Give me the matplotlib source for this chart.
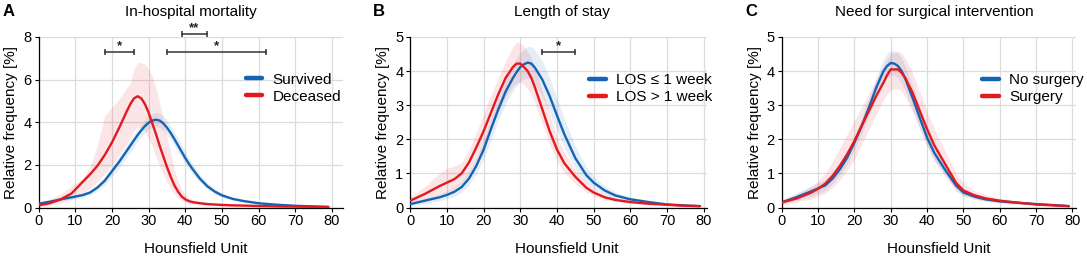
import matplotlib
matplotlib.use("Agg")
import matplotlib.pyplot as plt

plt.rcParams['font.family'] = ['Liberation Sans', 'DejaVu Sans']

BLUE = '#1464b4'
RED = '#e3191f'

# ---------------- Panel A: In-hospital mortality ----------------
xa = [0, 3, 6, 9, 12, 14, 16, 18, 20, 22, 24, 25, 26, 27, 28, 29, 30, 31, 32, 33,
      34, 35, 36, 37, 38, 39, 40, 41, 42, 44, 46, 48, 50, 53, 56, 60, 65, 70, 75, 79]
a_survived = [0.18, 0.27, 0.38, 0.48, 0.58, 0.70, 0.93, 1.25, 1.70, 2.15, 2.65, 2.90, 3.15, 3.40,
              3.62, 3.82, 3.98, 4.08, 4.12, 4.08, 3.95, 3.75, 3.50, 3.22, 2.92, 2.62, 2.32, 2.05,
              1.80, 1.35, 1.00, 0.75, 0.57, 0.40, 0.30, 0.20, 0.13, 0.08, 0.05, 0.03]
a_survived_hi = [0.22, 0.32, 0.45, 0.55, 0.68, 0.82, 1.10, 1.45, 1.95, 2.45, 2.95, 3.20, 3.45, 3.70,
                 3.92, 4.12, 4.30, 4.42, 4.45, 4.42, 4.30, 4.10, 3.85, 3.55, 3.25, 2.93, 2.60, 2.30,
                 2.03, 1.55, 1.15, 0.87, 0.67, 0.48, 0.36, 0.25, 0.17, 0.11, 0.07, 0.05]
a_survived_lo = [0.13, 0.20, 0.30, 0.38, 0.48, 0.58, 0.78, 1.05, 1.45, 1.87, 2.35, 2.60, 2.85, 3.10,
                 3.32, 3.52, 3.68, 3.76, 3.80, 3.75, 3.62, 3.42, 3.17, 2.90, 2.60, 2.32, 2.05, 1.80,
                 1.58, 1.17, 0.86, 0.64, 0.48, 0.33, 0.24, 0.16, 0.10, 0.06, 0.04, 0.02]
a_deceased = [0.10, 0.20, 0.38, 0.66, 1.20, 1.55, 1.95, 2.45, 3.05, 3.75, 4.50, 4.85, 5.12, 5.22,
              5.12, 4.85, 4.45, 3.95, 3.45, 2.90, 2.40, 1.90, 1.45, 1.05, 0.75, 0.52, 0.38, 0.30,
              0.25, 0.20, 0.16, 0.14, 0.12, 0.10, 0.09, 0.07, 0.05, 0.04, 0.03, 0.02]
a_deceased_hi = [0.22, 0.40, 0.65, 1.00, 1.35, 1.90, 2.90, 4.30, 4.70, 5.10, 5.60, 5.80, 6.50, 6.80,
                 6.80, 6.70, 6.50, 6.15, 5.60, 4.90, 4.15, 3.30, 2.60, 1.80, 1.25, 0.85, 0.60, 0.45,
                 0.38, 0.30, 0.25, 0.20, 0.17, 0.14, 0.12, 0.10, 0.07, 0.05, 0.04, 0.03]
a_deceased_lo = [0.05, 0.10, 0.20, 0.38, 0.65, 0.90, 1.20, 1.60, 2.00, 2.50, 3.00, 3.30, 3.60, 3.80,
                 3.75, 3.55, 3.25, 2.85, 2.40, 1.95, 1.55, 1.20, 0.90, 0.65, 0.45, 0.32, 0.24, 0.19,
                 0.16, 0.12, 0.10, 0.08, 0.07, 0.06, 0.05, 0.04, 0.03, 0.02, 0.01, 0.01]
a_sig = [(18, 26, 7.3, '*'), (39, 46, 8.12, '**'), (35, 62, 7.3, '*')]

# ---------------- Panel B: Length of stay ----------------
xb = [0, 4, 8, 10, 12, 14, 16, 18, 20, 22, 24, 26, 28, 29, 30, 31, 32, 33, 34, 36, 38, 40,
      42, 45, 48, 50, 53, 56, 60, 65, 70, 75, 79]
b_short = [0.10, 0.20, 0.30, 0.37, 0.46, 0.60, 0.85, 1.22, 1.70, 2.30, 2.88, 3.40, 3.80, 3.97,
           4.12, 4.20, 4.25, 4.22, 4.10, 3.75, 3.27, 2.70, 2.15, 1.45, 0.95, 0.73, 0.50, 0.35,
           0.24, 0.16, 0.09, 0.06, 0.04]
b_short_hi = [0.16, 0.28, 0.40, 0.48, 0.60, 0.76, 1.05, 1.45, 1.98, 2.60, 3.20, 3.75, 4.20, 4.40,
              4.55, 4.65, 4.72, 4.72, 4.62, 4.30, 3.80, 3.20, 2.60, 1.80, 1.20, 0.92, 0.64, 0.45,
              0.31, 0.20, 0.12, 0.08, 0.05]
b_short_lo = [0.05, 0.12, 0.20, 0.26, 0.33, 0.45, 0.66, 1.00, 1.42, 1.98, 2.55, 3.05, 3.42, 3.58,
              3.70, 3.77, 3.80, 3.76, 3.62, 3.25, 2.78, 2.25, 1.75, 1.15, 0.74, 0.56, 0.38, 0.26,
              0.18, 0.12, 0.07, 0.04, 0.03]
b_long = [0.20, 0.40, 0.63, 0.73, 0.83, 1.00, 1.32, 1.76, 2.24, 2.78, 3.32, 3.80, 4.12, 4.22,
          4.22, 4.12, 4.00, 3.80, 3.52, 2.88, 2.24, 1.70, 1.30, 0.90, 0.58, 0.44, 0.30, 0.22,
          0.16, 0.11, 0.08, 0.05, 0.04]
b_long_hi = [0.32, 0.62, 1.00, 1.15, 1.22, 1.32, 1.70, 2.20, 2.75, 3.30, 3.80, 4.30, 4.72, 4.85,
             4.82, 4.72, 4.58, 4.38, 4.10, 3.42, 2.72, 2.08, 1.62, 1.12, 0.75, 0.56, 0.38, 0.28,
             0.20, 0.14, 0.10, 0.07, 0.05]
b_long_lo = [0.10, 0.22, 0.38, 0.45, 0.55, 0.72, 1.00, 1.38, 1.82, 2.30, 2.80, 3.25, 3.55, 3.65,
             3.68, 3.60, 3.48, 3.30, 3.05, 2.45, 1.85, 1.38, 1.02, 0.70, 0.45, 0.34, 0.23, 0.17,
             0.12, 0.08, 0.06, 0.04, 0.03]
b_sig = [(36, 45, 4.56, '*')]

# ---------------- Panel C: Need for surgical intervention ----------------
xc = [0, 4, 8, 10, 12, 14, 16, 18, 20, 22, 24, 26, 28, 29, 30, 31, 32, 33, 34, 36, 38, 40,
      42, 45, 48, 50, 53, 56, 60, 65, 70, 75, 79]
c_nosurg = [0.15, 0.30, 0.47, 0.56, 0.65, 0.85, 1.12, 1.46, 1.90, 2.39, 2.93, 3.51, 4.00, 4.15,
            4.24, 4.22, 4.15, 4.00, 3.78, 3.22, 2.63, 2.05, 1.60, 1.10, 0.64, 0.44, 0.32, 0.24,
            0.18, 0.14, 0.10, 0.07, 0.04]
c_nosurg_hi = [0.22, 0.42, 0.62, 0.72, 0.82, 1.00, 1.28, 1.65, 2.10, 2.62, 3.20, 3.82, 4.35, 4.52,
               4.60, 4.60, 4.52, 4.38, 4.15, 3.58, 2.95, 2.33, 1.82, 1.27, 0.74, 0.53, 0.38, 0.29,
               0.22, 0.17, 0.12, 0.08, 0.05]
c_nosurg_lo = [0.10, 0.20, 0.33, 0.40, 0.50, 0.70, 0.96, 1.28, 1.70, 2.16, 2.68, 3.22, 3.68, 3.82,
               3.90, 3.88, 3.80, 3.65, 3.43, 2.88, 2.33, 1.80, 1.38, 0.94, 0.52, 0.36, 0.27, 0.20,
               0.15, 0.11, 0.08, 0.05, 0.03]
c_surg = [0.15, 0.26, 0.43, 0.55, 0.70, 0.93, 1.22, 1.56, 1.95, 2.39, 2.83, 3.27, 3.66, 3.88,
          4.05, 4.05, 4.05, 3.95, 3.80, 3.37, 2.83, 2.30, 1.82, 1.27, 0.72, 0.50, 0.36, 0.27,
          0.20, 0.14, 0.09, 0.06, 0.04]
c_surg_hi = [0.22, 0.38, 0.62, 0.78, 1.00, 1.35, 1.75, 2.15, 2.55, 2.95, 3.35, 3.75, 4.15, 4.35,
             4.50, 4.55, 4.58, 4.52, 4.38, 3.95, 3.40, 2.82, 2.30, 1.65, 1.00, 0.72, 0.50, 0.37,
             0.27, 0.19, 0.12, 0.08, 0.05]
c_surg_lo = [0.08, 0.15, 0.26, 0.33, 0.42, 0.58, 0.80, 1.08, 1.42, 1.85, 2.30, 2.75, 3.15, 3.33,
             3.45, 3.48, 3.48, 3.40, 3.24, 2.80, 2.30, 1.82, 1.38, 0.92, 0.48, 0.33, 0.24, 0.18,
             0.13, 0.10, 0.07, 0.04, 0.03]

xticks = [0, 10, 20, 30, 40, 50, 60, 70, 80]

W, H = 1087, 258
fig = plt.figure(figsize=(W / 100, H / 100), dpi=100)


def px_axes(left, right, top, bottom):
    return fig.add_axes([left / W, 1 - bottom / H, (right - left) / W, (bottom - top) / H])


panels = [
    dict(rect=(38.6, 343, 37, 207.5), xmax=83, ymax=8, yticks=[0, 2, 4, 6, 8], x=xa,
         series=[(a_survived, a_survived_lo, a_survived_hi, BLUE, 'Survived'),
                 (a_deceased, a_deceased_lo, a_deceased_hi, RED, 'Deceased')],
         sig=a_sig, leg=(0.68, 0.70), title='In-hospital mortality', tx=191, letter='A', lx=3,
         xl=0.517),
    dict(rect=(410.3, 707.3, 37, 207.5), xmax=81, ymax=5, yticks=[0, 1, 2, 3, 4, 5], x=xb,
         series=[(b_short, b_short_lo, b_short_hi, BLUE, 'LOS \u2264 1 week'),
                 (b_long, b_long_lo, b_long_hi, RED, 'LOS > 1 week')],
         sig=b_sig, leg=(0.603, 0.696), title='Length of stay', tx=562, letter='B', lx=373,
         xl=0.528),
    dict(rect=(781.7, 1075.7, 37, 207.5), xmax=80.9, ymax=5, yticks=[0, 1, 2, 3, 4, 5], x=xc,
         series=[(c_nosurg, c_nosurg_lo, c_nosurg_hi, BLUE, 'No surgery'),
                 (c_surg, c_surg_lo, c_surg_hi, RED, 'Surgery')],
         sig=[], leg=(0.682, 0.696), title='Need for surgical intervention', tx=934, letter='C',
         lx=745, xl=0.535),
]

for p in panels:
    l, r, t, b = p['rect']
    ax = px_axes(l, r, t, b)
    x = p['x']
    for y, lo, hi, col, lab in p['series']:
        ax.fill_between(x, lo, hi, color=col, alpha=0.11, lw=0)
    for y, lo, hi, col, lab in p['series']:
        ax.plot(x, y, color=col, lw=1.7, label=lab, solid_capstyle='round', zorder=3)
    ax.set_xlim(0, p['xmax'])
    ax.set_ylim(0, p['ymax'])
    ax.set_xticks(xticks)
    ax.set_yticks(p['yticks'])
    ax.grid(True, color='#dcdcdc', lw=0.9)
    ax.set_axisbelow(True)
    for s in ('top', 'right'):
        ax.spines[s].set_visible(False)
    for s in ('left', 'bottom'):
        ax.spines[s].set_linewidth(0.9)
    ax.tick_params(axis='both', labelsize=10.5, length=3, width=0.8, pad=2)
    ax.set_xlabel('Hounsfield Unit', fontsize=11)
    ax.set_ylabel('Relative frequency [%]', fontsize=11)
    ax.xaxis.set_label_coords(p['xl'], -0.2)
    ax.yaxis.set_label_coords(-0.068, 0.5)
    for x1, x2, yv, star in p['sig']:
        ax.plot([x1, x2], [yv, yv], color='#333333', lw=1.1, marker='|', ms=4.5, mew=1.1,
                clip_on=False, zorder=4)
        ax.text((x1 + x2) / 2, yv, star, ha='center', va='bottom', fontsize=9.5,
                fontweight='bold', color='#222222', clip_on=False)
    leg = ax.legend(loc='center left', bbox_to_anchor=p['leg'], frameon=False, fontsize=11,
                    borderpad=0, borderaxespad=0, handlelength=1.1, handletextpad=0.65,
                    labelspacing=0.2)
    for ln in leg.get_lines():
        ln.set_linewidth(3.2)
    fig.text(p['tx'] / W, 1 - 12 / H, p['title'], ha='center', va='center', fontsize=11)
    fig.text(p['lx'] / W, 1 - 12 / H, p['letter'], ha='left', va='center', fontsize=12,
             fontweight='bold')

fig.savefig('out.png', dpi=100)
